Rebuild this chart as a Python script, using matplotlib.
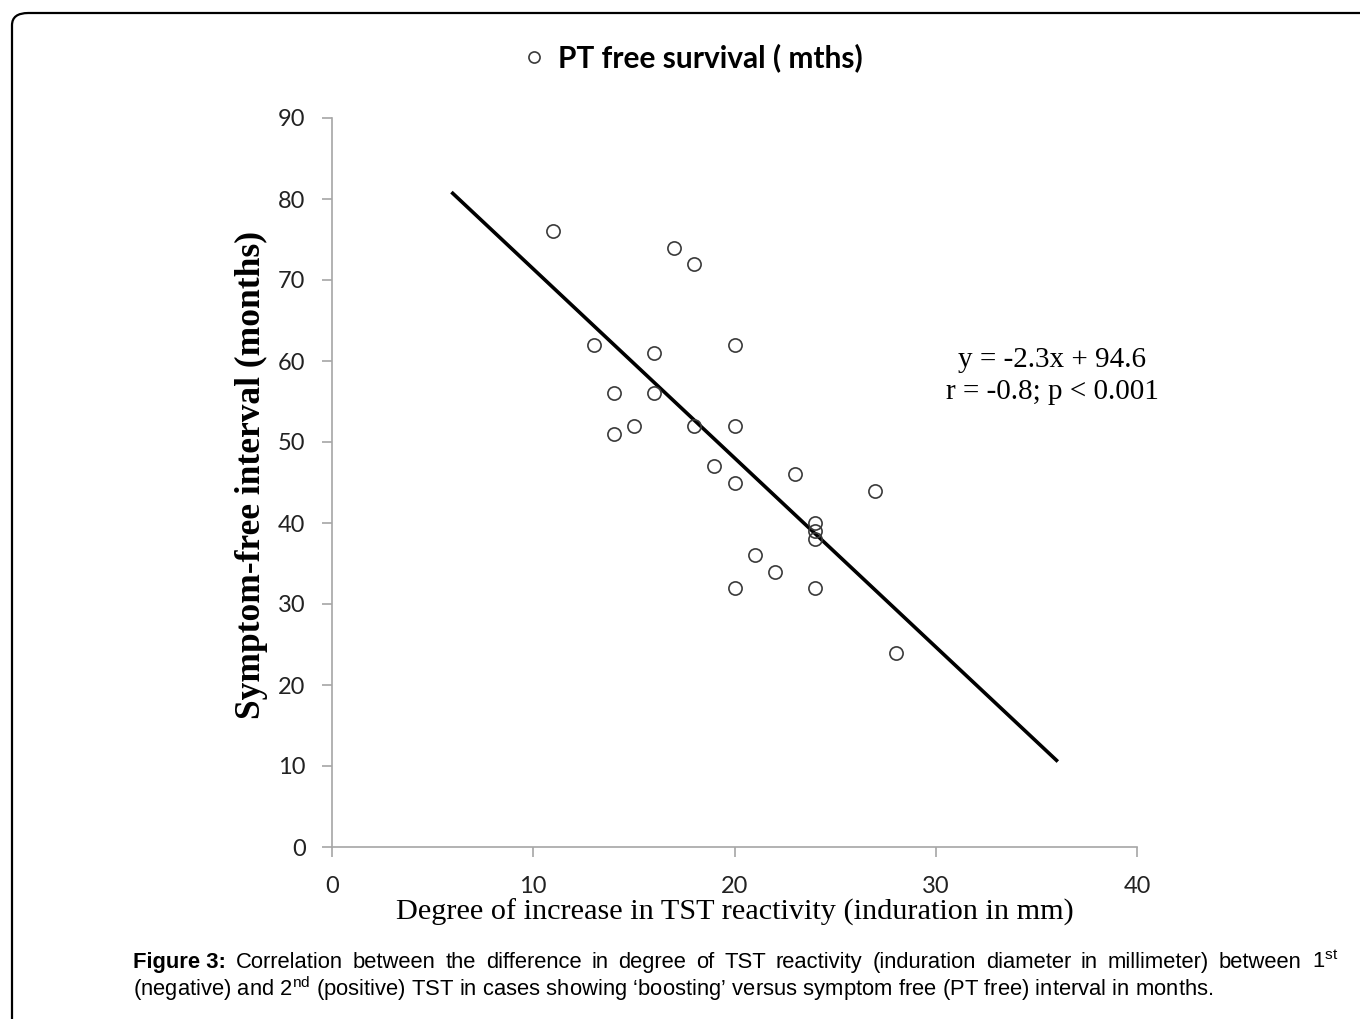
import matplotlib.pyplot as plt
from matplotlib.lines import Line2D
from matplotlib.patches import FancyBboxPatch

# TST induration increase (mm) vs symptom-free interval (months)
INDURATION = [11, 13, 14, 14, 15, 16, 16, 17, 18, 18, 19, 20, 20, 20, 20,
              21, 22, 23, 24, 24, 24, 24, 27, 28]
INTERVAL = [76, 62, 56, 51, 52, 61, 56, 74, 72, 52, 47, 62, 52, 45, 32,
            36, 34, 46, 40, 39, 38, 32, 44, 24]

# fitted line end points as drawn
FIT_X = [6, 36]
FIT_Y = [80.7, 10.7]

X_TICKS = [0, 10, 20, 30, 40]
Y_TICKS = [0, 10, 20, 30, 40, 50, 60, 70, 80, 90]

CAPTION_LINE1 = ("Correlation between the difference in degree of TST reactivity "
                 "(induration diameter in millimeter) between 1$^{\\mathrm{st}}$")
CAPTION_LINE2 = ("(negative) and 2$^{\\mathrm{nd}}$ (positive) TST in cases showing ‘boosting’ "
                 "versus symptom free (PT free) interval in months.")

plt.rcParams['mathtext.fontset'] = 'custom'
plt.rcParams['mathtext.rm'] = 'Liberation Sans'
plt.rcParams['mathtext.bf'] = 'Liberation Sans:bold'

SPINE = "#a6a6a6"
CAPTION_SIZE = 15.8
W, H = 1360, 1019

fig = plt.figure(figsize=(13.6, 10.19), dpi=100)

# rounded frame around the figure (open at right / bottom)
frame = FancyBboxPatch((12 / W, -0.1), 1.2, 1 - 13 / H + 0.1,
                       boxstyle="round,pad=0,rounding_size=0.012",
                       transform=fig.transFigure, fill=False,
                       edgecolor="black", linewidth=1.6)
fig.patches.append(frame)

ax = fig.add_axes([332 / W, 1 - 847 / H, (1137 - 332) / W, (847 - 118) / H])

ax.plot(FIT_X, FIT_Y, color="black", linewidth=2.6, zorder=2)
ax.plot(INDURATION, INTERVAL, linestyle="none", marker="o", markersize=9.5,
        markerfacecolor="none", markeredgecolor="#3a3a3a", markeredgewidth=1.2,
        zorder=3)

ax.set_xlim(0, 40)
ax.set_ylim(0, 90)
ax.set_xticks(X_TICKS)
ax.set_yticks(Y_TICKS)

for side in ["top", "right"]:
    ax.spines[side].set_visible(False)
for side in ["left", "bottom"]:
    ax.spines[side].set_color(SPINE)
    ax.spines[side].set_linewidth(1.2)

ax.tick_params(axis="both", direction="out", length=7, width=1.2, color=SPINE,
               labelsize=17, labelcolor="#222222")
ax.tick_params(axis="y", pad=12)
ax.tick_params(axis="x", pad=14)
for label in ax.get_xticklabels() + ax.get_yticklabels():
    label.set_family("Lato")

ax.set_xlabel("Degree of increase in TST reactivity (induration in mm)",
              family="Liberation Serif", fontsize=21.8, labelpad=1)
ax.set_ylabel("Symptom-free interval (months)",
              family="Liberation Serif", fontsize=25.5, weight="bold", labelpad=7)
ax.yaxis.label.set_y(0.51)

ax.text(0.895, 0.6455, "y = -2.3x + 94.6\nr = -0.8; p < 0.001",
        transform=ax.transAxes, ha="center", va="center",
        family="Liberation Serif", fontsize=21, linespacing=1.3)

legend_handle = Line2D([0], [0], linestyle="none", marker="o", markersize=8,
                       markerfacecolor="none", markeredgecolor="#3a3a3a",
                       markeredgewidth=1.2)
fig.legend(handles=[legend_handle], labels=["PT free survival ( mths)"],
           loc="center", bbox_to_anchor=(694 / W, 1 - 58 / H), frameon=False,
           handlelength=0.6, handletextpad=0.5,
           prop={"family": "Lato", "weight": "bold", "size": 21.5})

# caption: first line justified to the right margin
renderer = fig.canvas.get_renderer()
x0, x1 = 133, 1338
y1, y2 = 1 - 968 / H, 1 - 996 / H
words = ["Figure 3:"] + CAPTION_LINE1.split(" ")
artists = []
for i, word in enumerate(words):
    t = fig.text(x0 / W, y1, word, family="Liberation Sans", fontsize=CAPTION_SIZE,
                 weight="bold" if i == 0 else "normal", va="baseline", ha="left")
    artists.append(t)
widths = [t.get_window_extent(renderer).width for t in artists]
gap = (x1 - x0 - sum(widths)) / (len(words) - 1)
xpos = x0
for t, w in zip(artists, widths):
    t.set_x(xpos / W)
    xpos += w + gap

fig.text(x0 / W, y2, CAPTION_LINE2, family="Liberation Sans",
         fontsize=CAPTION_SIZE, va="baseline", ha="left")

fig.savefig("out.png", dpi=100)
